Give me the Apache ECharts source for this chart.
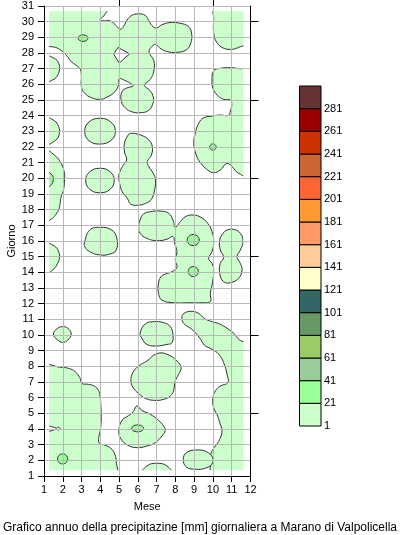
<!DOCTYPE html>
<html><head><meta charset="utf-8">
<script src="https://cdn.jsdelivr.net/npm/echarts@6/dist/echarts.min.js"></script>
<style>html,body{margin:0;padding:0;background:#fff}#c{width:400px;height:535px}</style>
</head><body><div id="c"></div>
<script>
const FONT = 'Liberation Sans, Arial, sans-serif';
const months = [1,2,3,4,5,6,7,8,9,10,11,12];
const days = [1,2,3,4,5,6,7,8,9,10,11,12,13,14,15,16,17,18,19,20,21,22,23,24,25,26,27,28,29,30,31];
const topTicks = [5,10];
const rightTicks = [5,10,15,20,25,30];
const legendTicks = [1,21,41,61,81,101,121,141,161,181,201,221,241,261,281];
const legendMax = 301;
const legendColors = ['#ccffcc','#99ff99','#99cc99','#99cc66','#669966','#336666','#ffffcc','#ffcc99','#ff9966','#ff9933','#ff6633','#cc6633','#cc3300','#990000','#663333'];

// data domain of the contoured grid (month, day)
const X0 = 1.28, X1 = 11.62, Y0 = 1.36, Y1 = 30.66;

// contour regions: precipitation >= 1 mm (month, day)
const band1Regions = [
 [[X0,Y1],[4.38,Y1],[4.18,30.36],[3.98,30.12],[4.2,30.05],[4.44,30.08],[4.71,29.9],[4.94,29.62],[5.06,29.5],[5.24,29.7],[5.42,30.1],[5.68,30.4],[6.04,30.5],[6.39,30.4],[6.57,30.1],[6.75,29.75],[7.0,29.6],[7.27,29.8],[7.71,29.94],[8.24,29.9],[8.68,29.7],[8.86,29.27],[8.82,28.64],[8.59,28.21],[8.06,28.04],[7.53,28.1],[7.17,28.32],[6.95,28.55],[6.7,28.35],[6.6,28.05],[6.85,27.5],[6.85,26.85],[6.65,26.3],[6.35,25.95],[6.65,25.6],[6.83,25.14],[6.78,24.71],[6.57,24.33],[6.12,24.19],[5.68,24.25],[5.33,24.5],[5.12,24.93],[5.15,25.52],[5.42,25.77],[5.75,25.9],[5.55,26.1],[5.3,26.25],[5.01,26.36],[4.98,25.98],[4.77,25.52],[4.35,25.18],[3.98,25.04],[3.53,25.15],[3.17,25.43],[2.99,25.85],[2.99,26.6],[2.9,27.02],[2.45,27.45],[2.18,27.87],[1.73,28.3],[X0,28.62]],
 [[10.12,Y1],[10.04,30.1],[10.04,29.26],[10.18,28.72],[10.48,28.36],[10.93,28.23],[11.37,28.36],[X1,28.7],[X1,Y1]],
 [[10.04,26.87],[10.39,27.02],[10.93,27.06],[11.4,27.0],[X1,26.91],[X1,20.2],[11.32,20.36],[11.02,20.74],[10.75,20.96],[10.39,20.53],[10.04,20.36],[9.72,20.53],[9.33,21.0],[9.11,21.49],[8.98,22.23],[9.07,22.95],[9.24,23.51],[9.5,23.86],[10.0,23.98],[10.39,24.04],[10.82,24.02],[10.93,24.3],[11.0,24.7],[10.93,25.0],[10.57,25.04],[10.22,25.32],[10.0,25.74],[9.95,26.28]],
 [[X0,27.77],[1.55,27.66],[1.78,27.34],[1.82,26.91],[1.68,26.49],[1.46,26.28],[X0,26.17]],
 [[X0,23.83],[1.55,23.68],[1.78,23.3],[1.82,22.87],[1.64,22.45],[X0,22.19]],
 [[3.99,23.83],[4.55,23.6],[4.8,23.05],[4.6,22.45],[4.0,22.19],[3.4,22.4],[3.17,23.0],[3.4,23.6]],
 [[X0,21.77],[1.55,21.49],[1.91,20.96],[2.09,20.32],[2.09,19.9],[2.04,19.26],[1.91,18.83],[1.86,18.4],[1.78,18.0],[1.6,17.64],[1.4,17.4],[X0,17.3]],
 [[3.98,20.64],[4.52,20.42],[4.74,19.88],[4.52,19.3],[3.98,19.08],[3.44,19.3],[3.22,19.88],[3.44,20.42]],
 [[5.61,22.87],[6.15,22.76],[6.59,22.44],[6.77,22.01],[6.72,21.48],[6.50,21.06],[6.59,20.74],[6.82,20.32],[6.94,19.89],[6.89,19.25],[6.72,18.66],[6.41,18.40],[5.97,18.28],[5.61,18.36],[5.44,18.72],[5.17,19.14],[5.03,19.68],[4.99,20.21],[5.17,20.74],[5.40,21.17],[5.29,21.68],[5.29,22.25],[5.45,22.70]],
 [[X0,15.81],[1.55,15.68],[1.78,15.32],[1.82,14.89],[1.68,14.47],[1.46,14.15],[X0,13.94]],
 [[3.17,15.96],[3.44,16.7],[3.98,16.87],[4.61,16.7],[4.88,16.17],[4.85,15.43],[4.52,15.17],[3.98,15.11],[3.44,15.32],[3.17,15.64]],
 [[1.5,10.06],[1.73,10.43],[2.0,10.53],[2.27,10.43],[2.45,10.06],[2.27,9.68],[2.0,9.53],[1.73,9.68]],
 [[6.04,16.91],[6.12,17.34],[6.30,17.72],[6.66,17.87],[7.19,17.91],[7.64,17.77],[7.87,17.34],[7.99,16.87],[8.26,17.23],[8.53,17.55],[8.94,17.66],[9.36,17.51],[9.72,17.13],[9.95,16.60],[10.04,15.96],[9.95,15.32],[9.77,14.89],[9.95,14.57],[10.04,14.15],[9.97,13.30],[9.86,12.66],[9.86,12.13],[9.42,12.06],[8.79,12.06],[7.90,12.06],[7.28,12.23],[7.10,12.66],[7.10,13.30],[7.23,13.72],[7.46,13.89],[7.81,14.04],[8.08,14.32],[7.99,14.79],[8.08,15.32],[7.96,15.85],[7.87,16.28],[7.55,16.11],[7.01,16.02],[6.48,16.17],[6.12,16.49]],
 [[10.75,16.70],[11.11,16.74],[11.46,16.49],[11.60,15.96],[11.46,15.43],[11.28,15.0],[11.46,14.57],[11.55,14.15],[11.37,13.62],[10.93,13.34],[10.57,13.40],[10.36,13.94],[10.39,14.57],[10.57,14.96],[10.39,15.43],[10.36,16.06],[10.54,16.49]],
 [[8.35,11.17],[8.53,11.43],[8.88,11.51],[9.24,11.38],[9.54,11.06],[9.95,10.85],[10.36,10.70],[10.75,10.43],[11.11,10.1],[11.4,9.7],[X1,9.35],[X1,Y0],[9.95,Y0],[9.86,1.74],[9.86,2.17],[9.95,2.60],[10.13,2.91],[10.36,3.34],[10.48,3.87],[10.36,4.40],[10.25,4.83],[10.04,5.36],[10.0,6.0],[10.13,6.43],[10.39,6.74],[10.79,6.96],[10.75,7.49],[10.57,8.23],[10.31,8.77],[9.95,9.09],[9.55,9.35],[9.3,9.8],[8.88,10.36],[8.44,10.74]],
 [[6.12,10.11],[6.39,10.70],[6.84,10.85],[7.37,10.79],[7.73,10.53],[7.87,10.0],[7.81,9.5],[7.55,9.4],[7.01,9.30],[6.48,9.40],[6.21,9.8]],
 [[6.04,8.02],[6.48,8.34],[7.01,8.81],[7.55,8.77],[8.08,8.34],[8.30,7.91],[8.17,7.49],[7.99,7.06],[7.90,6.43],[7.73,6.11],[7.37,5.89],[6.84,5.83],[6.39,5.96],[6.04,6.26],[5.73,6.68],[5.63,7.06],[5.73,7.60]],
 [[5.95,5.47],[6.21,5.19],[6.66,4.94],[7.10,4.55],[7.37,4.19],[7.46,3.91],[7.28,3.55],[6.93,3.13],[6.48,2.91],[5.95,2.81],[5.44,2.98],[5.08,3.4],[4.99,3.94],[5.17,4.57],[5.5,4.85],[5.75,5.1]],
 [[6.21,Y0],[6.48,1.64],[7.01,1.81],[7.55,1.64],[7.81,Y0]],
 [[8.42,2.06],[8.59,2.49],[9.12,2.66],[9.66,2.55],[9.98,2.17],[9.93,1.74],[9.57,1.49],[9.12,1.43],[8.59,1.57]],
 [[X0,7.98],[1.87,7.94],[2.31,7.87],[2.66,7.66],[2.93,7.23],[3.02,6.91],[3.37,6.85],[3.68,6.74],[3.91,6.45],[3.99,6.06],[4.03,5.43],[4.05,4.79],[4.03,4.26],[3.99,3.83],[3.91,3.40],[3.96,3.09],[4.26,2.96],[4.56,2.77],[4.77,2.40],[4.85,1.91],[4.81,Y0],[X0,Y0],[X0,3.55],[1.65,4.0],[1.75,3.93],[1.86,4.03],[1.75,4.12],[1.65,4.06],[X0,4.47]]
];
// enclosed areas below 1 mm
const band1Holes = [
 [[4.94,28.35],[5.56,27.95],[5.01,27.36],[4.71,27.93]]
];
// precipitation >= 21 mm
const band21Regions = [
 [[X0,20.53],[1.42,20.21],[1.5,20.0],[1.4,19.6],[X0,19.43]]
];
// small >= 21 mm spots: [month, day, half-width (months), half-height (days)]
const band21Spots = [
 [3.08, 28.95, 0.26, 0.21],
 [10.0, 22.0, 0.17, 0.2],
 [8.95, 16.06, 0.32, 0.36],
 [8.95, 14.05, 0.27, 0.32],
 [5.99, 4.04, 0.32, 0.22],
 [1.99, 2.09, 0.27, 0.32]
];

const chart = echarts.init(document.getElementById('c'), null, {renderer: 'canvas'});

function edgePush(pt, px) {
  const e = 1e-6; let x = px[0], y = px[1];
  if (Math.abs(pt[0] - X0) < e) x -= 4;
  if (Math.abs(pt[0] - X1) < e) x += 4;
  if (Math.abs(pt[1] - Y0) < e) y += 4;
  if (Math.abs(pt[1] - Y1) < e) y -= 4;
  return [x, y];
}
function domainClip(api) {
  const a = api.coord([X0, Y1]), b = api.coord([X1, Y0]);
  return {type: 'rect', shape: {x: a[0], y: a[1], width: b[0] - a[0], height: b[1] - a[1]}};
}
function polyRenderer(list, fill, smooth) {
  return function (params, api) {
    const poly = list[params.dataIndex];
    const pts = poly.map(p => edgePush(p, api.coord(p)));
    return {type: 'group', clipPath: domainClip(api), children: [
      {type: 'polygon', shape: {points: pts, smooth: smooth}, style: {fill: fill, stroke: '#333', lineWidth: 1}}
    ]};
  };
}
function spotRenderer(params, api) {
  const s = band21Spots[params.dataIndex];
  const c = api.coord([s[0], s[1]]);
  const rx = api.size([s[2], 0])[0], ry = api.size([0, s[3]])[1];
  const pts = [];
  for (let k = 0; k < 28; k++) {
    const a = k / 28 * Math.PI * 2;
    pts.push([c[0] + rx * Math.cos(a), c[1] + ry * Math.sin(a)]);
  }
  return {type: 'polygon', shape: {points: pts}, style: {fill: legendColors[1], stroke: '#333', lineWidth: 1}};
}
function legendRenderer(params, api) {
  const i = params.dataIndex;
  const lo = legendTicks[i];
  const hi = i + 1 < legendTicks.length ? legendTicks[i + 1] : legendMax;
  const p0 = api.coord([0, hi]), p1 = api.coord([1, lo]);
  return {type: 'rect', shape: {x: p0[0], y: p0[1], width: p1[0] - p0[0], height: p1[1] - p0[1]},
    style: {fill: legendColors[i], stroke: '#000', lineWidth: 1}};
}

const txt = {color: '#000', fontSize: 11, fontFamily: FONT};
const option = {
  animation: false,
  backgroundColor: '#fff',
  title: {text: 'Grafico annuo della precipitazine [mm] giornaliera a Marano di Valpolicella',
    left: 'center', bottom: 1, padding: 0, textStyle: {color: '#000', fontSize: 12, fontWeight: 'normal', fontFamily: FONT}},
  grid: [
    {left: 44, top: 6, width: 206.5, height: 470, containLabel: false, outerBoundsMode: 'none'},
    {left: 299.5, top: 86, width: 21.5, height: 340, containLabel: false, outerBoundsMode: 'none'}
  ],
  xAxis: [
    {gridIndex: 0, type: 'value', min: months[0], max: months[months.length - 1], interval: 1, position: 'bottom', z: 10,
     axisLine: {show: true, onZero: false, lineStyle: {color: '#000', width: 1}},
     axisTick: {show: true, length: 6, lineStyle: {color: '#000'}},
     axisLabel: Object.assign({margin: 8}, txt),
     splitLine: {show: true, lineStyle: {color: '#b8b8b8', width: 1}},
     name: 'Mese', nameLocation: 'middle', nameGap: 25, nameMoveOverlap: false, nameTextStyle: txt},
    {gridIndex: 0, type: 'value', min: months[0], max: months[months.length - 1], position: 'top', z: 10,
     axisLine: {show: false}, axisTick: {show: true, length: 6, customValues: topTicks, lineStyle: {color: '#000'}},
     axisLabel: {show: false}, splitLine: {show: false}},
    {gridIndex: 1, type: 'value', min: 0, max: 1, show: false}
  ],
  yAxis: [
    {gridIndex: 0, type: 'value', min: days[0], max: days[days.length - 1], interval: 1, position: 'left', z: 10,
     axisLine: {show: true, onZero: false, lineStyle: {color: '#000', width: 1}},
     axisTick: {show: true, length: 6, lineStyle: {color: '#000'}},
     axisLabel: Object.assign({margin: 10}, txt),
     splitLine: {show: true, lineStyle: {color: '#b8b8b8', width: 1}},
     name: 'Giorno', nameLocation: 'middle', nameGap: 27, nameMoveOverlap: false, nameTextStyle: txt},
    {gridIndex: 0, type: 'value', min: days[0], max: days[days.length - 1], position: 'right', z: 10,
     axisLine: {show: true, onZero: false, lineStyle: {color: '#000', width: 1}},
     axisTick: {show: true, length: 8, customValues: rightTicks, lineStyle: {color: '#000'}},
     axisLabel: {show: false}, splitLine: {show: false}},
    {gridIndex: 1, type: 'value', min: legendTicks[0], max: legendMax, position: 'right',
     axisLine: {show: false}, axisTick: {show: false}, splitLine: {show: false},
     axisLabel: Object.assign({margin: 3, customValues: legendTicks}, txt)}
  ],
  series: [
    {type: 'custom', xAxisIndex: 0, yAxisIndex: 0, z: 2, silent: true,
     data: band1Regions.map(p => p[0]), renderItem: polyRenderer(band1Regions, legendColors[0], 0.45)},
    {type: 'custom', xAxisIndex: 0, yAxisIndex: 0, z: 3, silent: true,
     data: band1Holes.map(p => p[0]), renderItem: polyRenderer(band1Holes, '#ffffff', 0)},
    {type: 'custom', xAxisIndex: 0, yAxisIndex: 0, z: 4, silent: true,
     data: band21Regions.map(p => p[0]), renderItem: polyRenderer(band21Regions, legendColors[1], 0.4)},
    {type: 'custom', xAxisIndex: 0, yAxisIndex: 0, z: 4, silent: true,
     data: band21Spots.map(s => [s[0], s[1]]), renderItem: spotRenderer},
    {type: 'custom', xAxisIndex: 2, yAxisIndex: 2, z: 2, silent: true,
     data: legendTicks.map(t => [0.5, t]), renderItem: legendRenderer}
  ]
};
chart.setOption(option);
</script></body></html>
